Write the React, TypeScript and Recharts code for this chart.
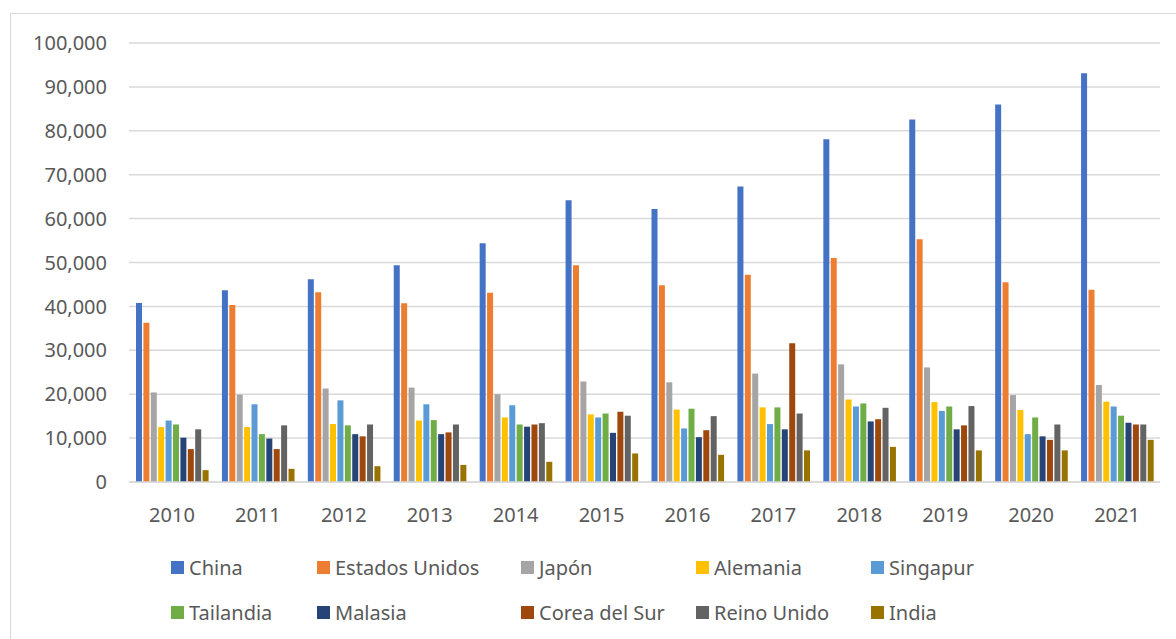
import React from "react";
import {
  Bar,
  BarChart,
  CartesianGrid,
  Legend,
  XAxis,
  YAxis,
} from "recharts";

const years = ["2010", "2011", "2012", "2013", "2014", "2015", "2016", "2017", "2018", "2019", "2020", "2021"];

const china = [40800, 43700, 46200, 49400, 54400, 64200, 62200, 67300, 78100, 82600, 86000, 93100];
const estadosUnidos = [36300, 40300, 43200, 40700, 43100, 49400, 44800, 47200, 51000, 55300, 45500, 43800];
const japon = [20400, 19900, 21300, 21500, 20000, 22900, 22700, 24700, 26800, 26100, 19800, 22100];
const alemania = [12500, 12500, 13200, 14000, 14700, 15400, 16500, 17000, 18800, 18200, 16400, 18300];
const singapur = [14000, 17700, 18600, 17700, 17500, 14700, 12200, 13200, 17200, 16200, 10900, 17200];
const tailandia = [13100, 10900, 12900, 14100, 13100, 15600, 16700, 17000, 17900, 17200, 14700, 15100];
const malasia = [10100, 9900, 10900, 10900, 12600, 11200, 10200, 12000, 13800, 12000, 10400, 13500];
const coreaDelSur = [7500, 7500, 10400, 11300, 13100, 16000, 11800, 31600, 14300, 12900, 9600, 13100];
const reinoUnido = [12000, 12900, 13100, 13100, 13400, 15100, 15000, 15600, 16900, 17300, 13100, 13100];
const india = [2700, 3000, 3600, 3900, 4600, 6500, 6200, 7200, 8000, 7200, 7200, 9600];

const yTicks = [0, 10000, 20000, 30000, 40000, 50000, 60000, 70000, 80000, 90000, 100000];

const series = [
  { key: "China", values: china, color: "#4472C4" },
  { key: "Estados Unidos", values: estadosUnidos, color: "#ED7D31" },
  { key: "Japón", values: japon, color: "#A5A5A5" },
  { key: "Alemania", values: alemania, color: "#FFC000" },
  { key: "Singapur", values: singapur, color: "#5B9BD5" },
  { key: "Tailandia", values: tailandia, color: "#70AD47" },
  { key: "Malasia", values: malasia, color: "#264478" },
  { key: "Corea del Sur", values: coreaDelSur, color: "#9E480E" },
  { key: "Reino Unido", values: reinoUnido, color: "#636363" },
  { key: "India", values: india, color: "#997300" },
];

const data = years.map((year, i) => {
  const row: Record<string, string | number> = { year };
  series.forEach((s) => {
    row[s.key] = s.values[i];
  });
  return row;
});

const FONT = "'Noto Sans', sans-serif";
const TEXT = "#595959";

// legend columns (left edge of swatch), Excel-style 2 rows x 5 cols
const legendCols = [171, 317, 521, 696, 871];
const legendRows = [567, 612];

const renderLegend = () => (
  <div style={{ position: "relative", width: 1176, height: 80 }}>
    {series.map((s, i) => {
      const col = i % 5;
      const row = Math.floor(i / 5);
      return (
        <div
          key={s.key}
          style={{
            position: "absolute",
            left: legendCols[col],
            top: legendRows[row] - 548 - 14,
            height: 28,
            display: "flex",
            alignItems: "center",
            fontFamily: FONT,
            fontSize: 20,
            color: TEXT,
            whiteSpace: "nowrap",
          }}
        >
          <span
            style={{
              display: "inline-block",
              width: 13,
              height: 13,
              background: s.color,
              marginRight: 5,
            }}
          />
          {s.key}
        </div>
      );
    })}
  </div>
);

export default function App() {
  return (
    <div
      style={{
        position: "absolute",
        left: 0,
        top: 0,
        width: 1176,
        height: 639,
        overflow: "hidden",
        background: "#fff",
      }}
    >
      <div
        style={{
          position: "absolute",
          left: 10,
          top: 13,
          width: 1200,
          height: 700,
          borderTop: "1.5px solid #d9d9d9",
          borderLeft: "1.5px solid #d9d9d9",
        }}
      />
      <div style={{ position: "absolute", left: 0, top: 0 }}>
        <BarChart
          width={1176}
          height={639}
          data={data}
          margin={{ top: 43, right: 16, bottom: 117, left: 0 }}
          barSize={6}
          barGap={1.4}
          style={{ fontFamily: FONT }}
        >
          <CartesianGrid vertical={false} stroke="#d9d9d9" strokeWidth={1.5} />
          <XAxis
            dataKey="year"
            height={40}
            axisLine={{ stroke: "#d9d9d9", strokeWidth: 1.5 }}
            tickLine={false}
            tickMargin={20}
            tick={{ fill: TEXT, fontSize: 20, fontFamily: FONT }}
          />
          <YAxis
            width={129}
            domain={[0, 100000]}
            ticks={yTicks}
            interval={0}
            axisLine={false}
            tickLine={false}
            tickMargin={16}
            tickFormatter={(v: number) => v.toLocaleString("en-US")}
            tick={{ fill: TEXT, fontSize: 20, fontFamily: FONT }}
          />
          <Legend
            layout="horizontal"
            verticalAlign="middle"
            align="center"
            wrapperStyle={{ top: 548, left: 0, width: 1176 }}
            content={renderLegend}
          />
          {series.map((s) => (
            <Bar
              key={s.key}
              dataKey={s.key}
              fill={s.color}
              isAnimationActive={false}
            />
          ))}
        </BarChart>
      </div>
    </div>
  );
}
